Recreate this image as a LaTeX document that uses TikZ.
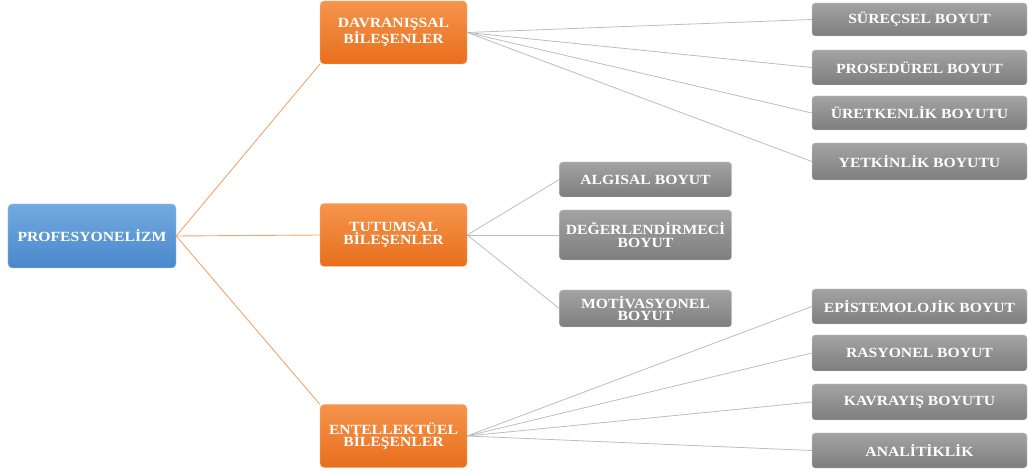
\documentclass[tikz,border=0pt]{standalone}
\usepackage{fontspec}
\newfontfamily\boxfont[FakeStretch=1.12]{Liberation Serif}
\usepackage{xcolor}
\usepackage{tikz}
\usetikzlibrary{shadings}

\definecolor{bluetop}{HTML}{72AADF}
\definecolor{bluebot}{HTML}{4A88CC}
\definecolor{orangetop}{HTML}{F5944C}
\definecolor{orangebot}{HTML}{E86F1C}
\definecolor{greytop}{HTML}{A3A3A3}
\definecolor{greybot}{HTML}{7E7E7E}
\definecolor{twiggrey}{HTML}{BDBDBD}
\definecolor{branchorange}{HTML}{F2A46E}

\begin{document}
\begin{tikzpicture}[x=1bp, y=-1bp,
    boxbase/.style={rounded corners=4bp, text=white, align=center, inner sep=2bp,
      font={\boxfont\bfseries\fontsize{14bp}{12.5bp}\selectfont}},
    rootbox/.style={boxbase, top color=bluetop, bottom color=bluebot, draw=bluetop!60!white,
      minimum width=168bp, minimum height=64bp},
    groupbox/.style={boxbase, top color=orangetop, bottom color=orangebot, draw=orangetop!60!white,
      minimum width=147bp, minimum height=63bp},
    leafbox/.style={boxbase, top color=greytop, bottom color=greybot, draw=greytop!50!white,
      rounded corners=3bp, minimum height=35bp},
    branch/.style={draw=branchorange, line width=0.9bp},
    twig/.style={draw=twiggrey, line width=0.8bp}]
  \useasboundingbox (0,0) rectangle (1029,474);

  % Root
  \node[rootbox] (prof) at (92,236) {PROFESYONELİZM};

  % Component groups
  \node[groupbox] (davr) at (393.5,32.5) {DAVRANIŞSAL\\BİLEŞENLER};
  \node[groupbox] (tutum) at (393.5,235) {TUTUMSAL\\BİLEŞENLER};
  \node[groupbox] (entel) at (393.5,436) {ENTELLEKTÜEL\\BİLEŞENLER};

  % Behavioural dimensions
  \node[leafbox, minimum width=215bp, minimum height=33bp] (surec) at (919.5,19.5) {SÜREÇSEL BOYUT};
  \node[leafbox, minimum width=215bp] (prosed) at (919.5,67.5) {PROSEDÜREL BOYUT};
  \node[leafbox, minimum width=215bp, minimum height=34bp] (uretk) at (919.5,113) {ÜRETKENLİK BOYUTU};
  \node[leafbox, minimum width=215bp, minimum height=37bp] (yetk) at (919.5,161.5) {YETKİNLİK BOYUTU};

  % Attitudinal dimensions
  \node[leafbox, minimum width=172bp] (algi) at (645.5,179.5) {ALGISAL BOYUT};
  \node[leafbox, minimum width=172bp, minimum height=50bp] (degr) at (645.5,235) {DEĞERLENDİRMECİ\\BOYUT};
  \node[leafbox, minimum width=172bp, minimum height=37bp] (motiv) at (645.5,308.5) {MOTİVASYONEL\\BOYUT};

  % Intellectual dimensions
  \node[leafbox, minimum width=215bp] (epist) at (919.5,306.5) {EPİSTEMOLOJİK BOYUT};
  \node[leafbox, minimum width=215bp, minimum height=36bp] (rasy) at (919.5,353) {RASYONEL BOYUT};
  \node[leafbox, minimum width=215bp, minimum height=36bp] (kavr) at (919.5,402) {KAVRAYIŞ BOYUTU};
  \node[leafbox, minimum width=215bp] (anal) at (919.5,450.5) {ANALİTİKLİK};

  % Root to groups
  \draw[branch] (prof.east) -- (davr.south west);
  \draw[branch] (prof.east) -- (tutum.west);
  \draw[branch] (prof.east) -- (entel.north west);

  % Groups to dimensions
  \draw[twig] (davr.east) -- (surec.west);
  \draw[twig] (davr.east) -- (prosed.west);
  \draw[twig] (davr.east) -- (uretk.west);
  \draw[twig] (davr.east) -- (yetk.west);
  \draw[twig] (tutum.east) -- (algi.west);
  \draw[twig] (tutum.east) -- (degr.west);
  \draw[twig] (tutum.east) -- (motiv.west);
  \draw[twig] (entel.east) -- (epist.west);
  \draw[twig] (entel.east) -- (rasy.west);
  \draw[twig] (entel.east) -- (kavr.west);
  \draw[twig] (entel.east) -- (anal.west);
\end{tikzpicture}
\end{document}
